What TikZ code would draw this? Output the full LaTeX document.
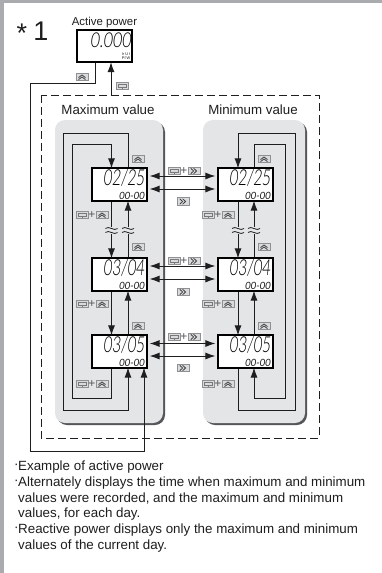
\documentclass[tikz,border=0pt]{standalone}
\usepackage{fontspec}
\usepackage{graphicx}
\setmainfont{Liberation Sans}
\newfontfamily\lcdfont[FakeSlant=0.15,UprightFont=* Light]{Lato}
\newfontfamily\lcdsmallfont[FakeSlant=0.15]{Lato}
\usetikzlibrary{arrows.meta,calc}
\definecolor{pagegray}{HTML}{A9ABAE}
\definecolor{panelgray}{HTML}{E4E5E7}
\definecolor{shadowgray}{HTML}{55565A}
\definecolor{inkdark}{HTML}{1E1E1E}
\definecolor{iconfill}{HTML}{DADBDD}
\definecolor{iconline}{HTML}{8E9093}
\tikzset{
  wire/.style={draw=inkdark,line width=1pt},
  arrowwire/.style={wire,-{Latex[length=10pt,width=7pt]}},
  bothwire/.style={wire,{Latex[length=10pt,width=7pt]}-{Latex[length=10pt,width=7pt]}},
  lcdbox/.style={draw=black,line width=2.2pt,fill=white,minimum width=55pt,minimum height=33pt,inner sep=0pt},
  lcdbig/.style={inner sep=0pt,anchor=east,text=black,font=\lcdfont\fontsize{22}{22}\selectfont},
  lcdsmall/.style={inner sep=0pt,anchor=east,text=inkdark,font=\lcdsmallfont\fontsize{10}{10}\selectfont},
  heading/.style={inner sep=0pt,text=inkdark,font=\fontsize{13.3}{14}\selectfont},
  note/.style={inner sep=0pt,anchor=west,text=inkdark,font=\fontsize{13.35}{14}\selectfont},
  plussign/.style={inner sep=0pt,text=iconline!60!black,font=\fontsize{12}{12}\selectfont},
  keycap/.style={draw=iconline,fill=iconfill,line width=0.6pt,minimum width=12pt,minimum height=7.5pt,inner sep=0pt},
  glyph/.style={draw=inkdark!85,line width=0.8pt},
}
\newcommand{\upkey}[3]{%
  \node[keycap] (#1) at (#2,#3) {};
  \draw[glyph] ($(#1.center)+(-3.5,0.6)$) -- ($(#1.center)+(0,-2)$) -- ($(#1.center)+(3.5,0.6)$);
  \draw[glyph] ($(#1.center)+(-3.5,2.6)$) -- ($(#1.center)+(0,0)$) -- ($(#1.center)+(3.5,2.6)$);
}
\newcommand{\ffkey}[3]{%
  \node[keycap] (#1) at (#2,#3) {};
  \draw[glyph] ($(#1.center)+(-3.2,-2.7)$) -- ($(#1.center)+(-0.4,0)$) -- ($(#1.center)+(-3.2,2.7)$);
  \draw[glyph] ($(#1.center)+(-0.4,-2.7)$) -- ($(#1.center)+(2.6,0)$) -- ($(#1.center)+(-0.4,2.7)$);
}
\newcommand{\setkey}[3]{%
  \node[keycap] (#1) at (#2,#3) {};
  \draw[draw=inkdark!60,line width=0.5pt] ($(#1.center)+(-4,-1.6)$) rectangle ($(#1.center)+(4,0.8)$);
  \draw[draw=inkdark!60,line width=0.5pt] ($(#1.center)+(0,0.8)$) -- ($(#1.center)+(0,2.6)$);
}
\newcommand{\comboup}[3]{%
  \setkey{#1a}{#2+6}{#3}
  \node[plussign] (#1p) at (#2+16,#3) {+};
  \upkey{#1b}{#2+26}{#3}
}
\newcommand{\comboff}[3]{%
  \setkey{#1a}{#2+6}{#3}
  \node[plussign] (#1p) at (#2+16,#3) {+};
  \ffkey{#1b}{#2+26}{#3}
}
\newcommand{\display}[4]{%
  \node[lcdbox] (#1) at (#2,#3) {};
  \node[lcdbig] (#1d) at ($(#1.east)+(-3.5,-6.5)$) {\scalebox{0.68}[1]{#4}};
  \node[lcdsmall] (#1t) at ($(#1.east)+(-3.5,11)$) {\scalebox{0.95}[1]{00-00}};
}
\newcommand{\tildebreak}[2]{%
  \fill[panelgray] (#1-2,#2-3.5) rectangle (#1+2,#2+3.5);
  \draw[wire,line width=0.8pt] (#1-6,#2-1.5) .. controls (#1-3,#2-5) and (#1+3,#2+2) .. (#1+6,#2-1.5);
  \draw[wire,line width=0.8pt] (#1-6,#2+2.5) .. controls (#1-3,#2-1) and (#1+3,#2+6) .. (#1+6,#2+2.5);
}
\begin{document}
\begin{tikzpicture}[x=1pt,y=-1pt]
\useasboundingbox (0,0) rectangle (382,573);
\fill[pagegray] (0,0) rectangle (382,573);
\fill[white] (4,3) rectangle (382,573);
% title
\node[inner sep=0pt,text=inkdark,font=\fontsize{27}{27}\selectfont] (star) at (22,33) {*};
\node[inner sep=0pt,text=inkdark,font=\fontsize{27}{27}\selectfont] (one) at (41,31) {1};
\node[inner sep=0pt,text=inkdark,font=\fontsize{11.4}{12}\selectfont] (aplabel) at (104.5,22.5) {Active power};
% dashed frame
\draw[draw=inkdark,line width=1pt,dash pattern=on 8pt off 4pt] (41,95) rectangle (319,438);
% panels
\fill[shadowgray,rounded corners=10pt] (57,122) rectangle (165,425);
\fill[panelgray,rounded corners=10pt] (55,120) rectangle (163,423);
\fill[shadowgray,rounded corners=10pt] (205,122) rectangle (307,425);
\fill[panelgray,rounded corners=10pt] (203,120) rectangle (305,423);
\node[heading] (maxlabel) at (108,109.5) {Maximum value};
\node[heading] (minlabel) at (253,109.5) {Minimum value};
% displays
\node[lcdbox,minimum width=55pt,minimum height=32pt] (ap) at (104.5,46) {};
\node[lcdbig,font=\lcdfont\fontsize{20.5}{20.5}\selectfont] (apd) at ($(ap.east)+(-2,-5.5)$) {\scalebox{0.78}[1]{0.000}};
\node[inner sep=0pt,anchor=east,text=inkdark,font=\fontsize{3.9}{4}\selectfont,align=right] (apu) at ($(ap.east)+(-2.5,10)$) {Ir U I\\ Pf W};
\display{ma}{119.5}{184.5}{02/25}
\display{mb}{119.5}{274.5}{03/04}
\display{mc}{119.5}{351.5}{03/05}
\display{na}{245.5}{184.5}{02/25}
\display{nb}{245.5}{274.5}{03/04}
\display{nc}{245.5}{351.5}{03/05}
% active power links
\coordinate (c1) at (95,83.5);
\coordinate (c2) at (30,83.5);
\coordinate (c3) at (30,451);
\coordinate (c4) at (144,451);
\draw[arrowwire] (ap.south -| c1) -- (c1) -- (c2) -- (c3) -- (c4) -- ([xshift=24.5pt,yshift=1.5pt]mc.south);
\coordinate (dtop) at (111,95);
\draw[arrowwire] (dtop) -- ([yshift=1pt]ap.south -| dtop);
% max column loops
\draw[arrowwire] ([xshift=9pt]ma.north) |- (63,133) -- (63,410) -| ([xshift=8.5pt,yshift=1.5pt]mc.south);
\draw[arrowwire] ([xshift=-8pt]mc.south) |- (72,398) -- (72,144) -| ([xshift=-8pt,yshift=-1.5pt]ma.north);
\draw[arrowwire] ([xshift=-8pt]ma.south) -- ([xshift=-8pt,yshift=-1.5pt]mb.north);
\draw[arrowwire] ([xshift=8.5pt]mb.north) -- ([xshift=8.5pt,yshift=1.5pt]ma.south);
\draw[arrowwire] ([xshift=-8pt]mb.south) -- ([xshift=-8pt,yshift=-1.5pt]mc.north);
\draw[arrowwire] ([xshift=8.5pt]mc.north) -- ([xshift=8.5pt,yshift=1.5pt]mb.south);
% min column loops
\draw[arrowwire] ([xshift=-7.5pt]nc.south) |- (295,410) -- (295,133) -| ([xshift=-7.5pt,yshift=-1.5pt]na.north);
\draw[arrowwire] ([xshift=8.5pt]na.north) |- (285,144) -- (285,398) -| ([xshift=8.5pt,yshift=1.5pt]nc.south);
\draw[arrowwire] ([xshift=-7.5pt]na.south) -- ([xshift=-7.5pt,yshift=-1.5pt]nb.north);
\draw[arrowwire] ([xshift=8.5pt]nb.north) -- ([xshift=8.5pt,yshift=1.5pt]na.south);
\draw[arrowwire] ([xshift=-7.5pt]nb.south) -- ([xshift=-7.5pt,yshift=-1.5pt]nc.north);
\draw[arrowwire] ([xshift=8.5pt]nc.north) -- ([xshift=8.5pt,yshift=1.5pt]nb.south);
% horizontal double arrows
\draw[bothwire] ([xshift=1.5pt,yshift=-4.5pt]ma.east) -- ([xshift=-1.5pt,yshift=-4.5pt]na.west);
\draw[bothwire] ([xshift=1.5pt,yshift=8.5pt]ma.east) -- ([xshift=-1.5pt,yshift=8.5pt]na.west);
\draw[bothwire] ([xshift=1.5pt,yshift=-4.5pt]mb.east) -- ([xshift=-1.5pt,yshift=-4.5pt]nb.west);
\draw[bothwire] ([xshift=1.5pt,yshift=8.5pt]mb.east) -- ([xshift=-1.5pt,yshift=8.5pt]nb.west);
\draw[bothwire] ([xshift=1.5pt,yshift=-4.5pt]mc.east) -- ([xshift=-1.5pt,yshift=-4.5pt]nc.west);
\draw[bothwire] ([xshift=1.5pt,yshift=8pt]mc.east) -- ([xshift=-1.5pt,yshift=8pt]nc.west);
% breaks
\tildebreak{111.5}{230}
\tildebreak{128}{230}
\tildebreak{238}{230}
\tildebreak{254}{230}
% keys
\upkey{k1}{82}{77}
\setkey{k2}{122}{86}
\upkey{k3}{138}{159}
\upkey{k4}{138}{247}
\upkey{k5}{138}{326}
\upkey{k6}{264}{159}
\upkey{k7}{264}{247}
\upkey{k8}{264}{326}
\comboup{l1}{76}{215}
\comboup{l2}{76}{304}
\comboup{l3}{76}{384}
\comboup{r1}{202}{215}
\comboup{r2}{202}{304}
\comboup{r3}{202}{384}
\comboff{f1}{168}{171}
\comboff{f2}{168}{261}
\comboff{f3}{168}{337}
\ffkey{g1}{183}{201.5}
\ffkey{g2}{183}{292}
\ffkey{g3}{183}{368}
% notes
\node[note] (n0) at (14,466) {\textperiodcentered};
\node[note] (n1) at (18,467) {Example of active power};
\node[note] (n2a) at (14,482) {\textperiodcentered};
\node[note] (n2) at (18,483) {Alternately displays the time when maximum and minimum};
\node[note] (n3) at (18,498.5) {values were recorded, and the maximum and minimum};
\node[note] (n4) at (18,514.5) {values, for each day.};
\node[note] (n5a) at (14,529.5) {\textperiodcentered};
\node[note] (n5) at (18,530.5) {Reactive power displays only the maximum and minimum};
\node[note] (n6) at (18,546.5) {values of the current day.};
\end{tikzpicture}
\end{document}
